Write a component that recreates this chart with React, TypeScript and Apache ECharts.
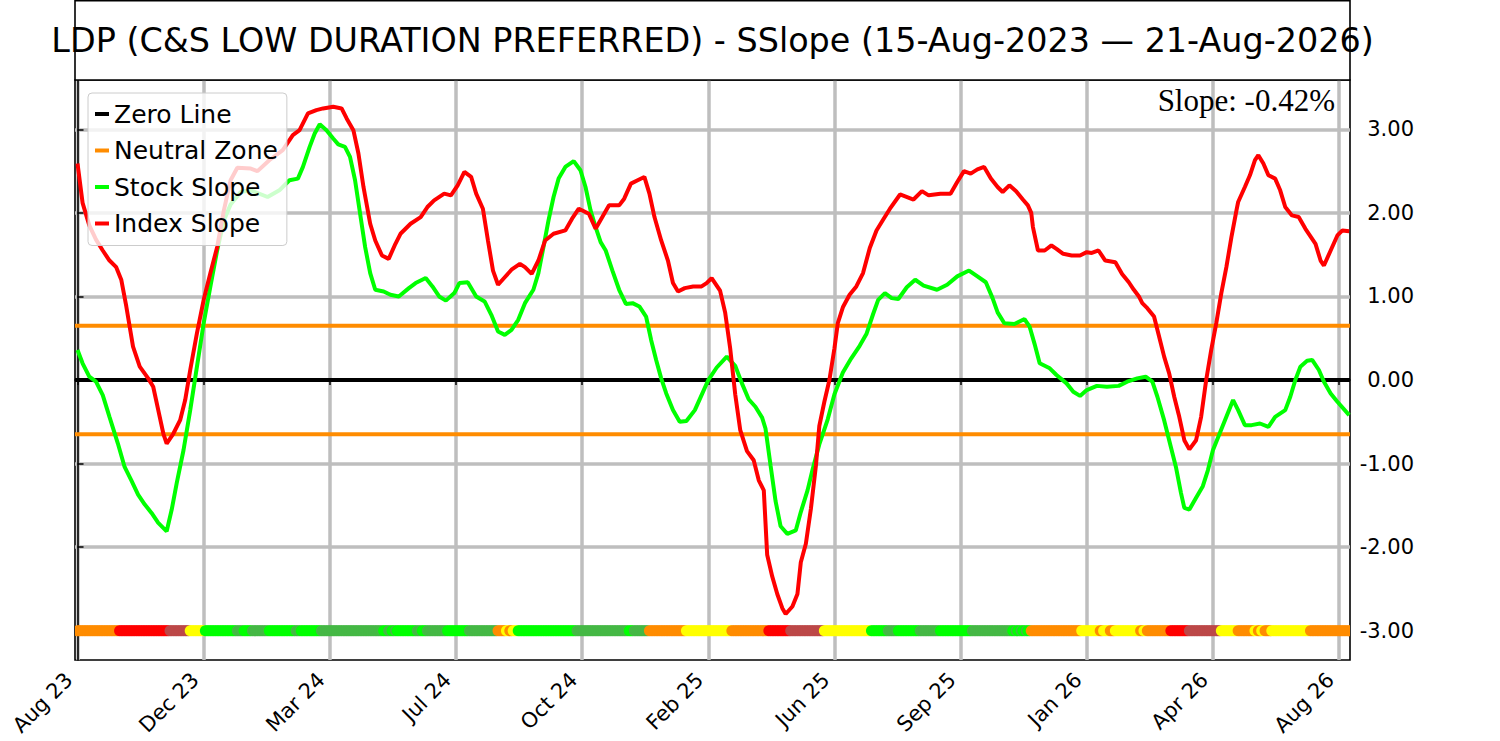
import React, { useEffect, useRef } from 'react';
import * as echarts from 'echarts';

// ---------- data ----------
const titleText = 'LDP (C&S LOW DURATION PREFERRED) - SSlope (15-Aug-2023 — 21-Aug-2026)';
const slopeText = 'Slope: -0.42%';

const xTickDays = [0, 75, 150, 225, 300, 375, 450, 525, 600, 675, 750];
const xTickLabels = ['Aug 23', 'Dec 23', 'Mar 24', 'Jul 24', 'Oct 24', 'Feb 25', 'Jun 25', 'Sep 25', 'Jan 26', 'Apr 26', 'Aug 26'];
const yTickValues = [-3, -2, -1, 0, 1, 2, 3];
const neutralLevel = 0.65;
const totalDays = 757;
const signalLevel = -3;

// [trading-day index, slope]
const stockSlope: [number, number][] = [
  [0, 0.36], [3, 0.2], [7, 0.04], [11, -0.02], [15, -0.18], [19, -0.44], [24, -0.76], [28, -1.04], [32, -1.2], [36, -1.37],
  [40, -1.49], [44, -1.59], [48, -1.71], [53, -1.81], [56, -1.55], [59, -1.23], [63, -0.84], [67, -0.36], [71, 0.16], [75, 0.68],
  [79, 1.12], [83, 1.55], [87, 1.91], [91, 2.1], [97, 2.25], [103, 2.27], [113, 2.19], [120, 2.27], [126, 2.39], [131, 2.41],
  [134, 2.55], [138, 2.79], [141, 2.95], [144, 3.06], [148, 2.99], [152, 2.89], [155, 2.82], [159, 2.79], [162, 2.67], [165, 2.39],
  [168, 1.99], [171, 1.59], [174, 1.28], [177, 1.08], [182, 1.06], [186, 1.02], [191, 1.0], [197, 1.1], [201, 1.16], [207, 1.22],
  [211, 1.12], [215, 1.0], [219, 0.95], [224, 1.04], [227, 1.16], [232, 1.17], [237, 1.0], [242, 0.94], [246, 0.78], [250, 0.58],
  [254, 0.54], [258, 0.6], [262, 0.72], [266, 0.92], [271, 1.08], [274, 1.28], [277, 1.59], [280, 1.91], [283, 2.19], [286, 2.41],
  [290, 2.55], [295, 2.62], [299, 2.51], [302, 2.31], [305, 2.03], [308, 1.83], [311, 1.65], [314, 1.55], [318, 1.31], [322, 1.08],
  [326, 0.91], [330, 0.92], [334, 0.88], [338, 0.76], [341, 0.48], [344, 0.24], [347, 0.02], [350, -0.16], [354, -0.36], [358, -0.5],
  [362, -0.49], [367, -0.36], [371, -0.18], [375, 0.0], [380, 0.15], [386, 0.28], [391, 0.17], [395, -0.04], [399, -0.23], [403, -0.32],
  [407, -0.45], [409, -0.58], [412, -1.02], [415, -1.45], [418, -1.75], [422, -1.84], [427, -1.8], [430, -1.58], [434, -1.32], [437, -1.07],
  [441, -0.77], [446, -0.47], [450, -0.17], [455, 0.09], [460, 0.26], [465, 0.41], [469, 0.55], [473, 0.79], [476, 0.96], [480, 1.04],
  [484, 0.98], [488, 0.97], [493, 1.11], [498, 1.2], [503, 1.13], [511, 1.08], [517, 1.14], [523, 1.24], [530, 1.31], [535, 1.24],
  [540, 1.17], [544, 0.98], [547, 0.81], [551, 0.68], [557, 0.67], [563, 0.73], [566, 0.64], [569, 0.43], [572, 0.2], [578, 0.14],
  [582, 0.06], [588, -0.04], [592, -0.14], [596, -0.19], [600, -0.12], [606, -0.07], [612, -0.08], [619, -0.07], [624, -0.02], [630, 0.02],
  [635, 0.04], [639, -0.02], [642, -0.2], [646, -0.48], [650, -0.8], [653, -1.04], [656, -1.35], [658, -1.53], [661, -1.55], [665, -1.41],
  [669, -1.27], [672, -1.08], [675, -0.84], [679, -0.64], [683, -0.44], [687, -0.24], [690, -0.36], [694, -0.54], [698, -0.54], [703, -0.52],
  [708, -0.56], [712, -0.44], [718, -0.36], [721, -0.2], [724, 0.0], [727, 0.16], [731, 0.23], [734, 0.24], [738, 0.12], [741, -0.02],
  [745, -0.16], [749, -0.26], [756, -0.42],
];

const indexSlope: [number, number][] = [
  [0, 2.59], [3, 2.12], [7, 1.85], [11, 1.68], [15, 1.55], [19, 1.43], [23, 1.35], [26, 1.2], [29, 0.88], [33, 0.4],
  [37, 0.16], [42, 0.02], [45, -0.08], [48, -0.36], [51, -0.64], [53, -0.76], [57, -0.64], [61, -0.48], [64, -0.24], [67, 0.12],
  [71, 0.56], [75, 0.96], [79, 1.28], [83, 1.59], [87, 2.03], [91, 2.39], [95, 2.54], [103, 2.53], [107, 2.5], [114, 2.63],
  [122, 2.75], [128, 2.93], [132, 2.99], [137, 3.19], [142, 3.23], [146, 3.25], [152, 3.27], [157, 3.25], [160, 3.13], [164, 2.99],
  [167, 2.71], [170, 2.31], [174, 1.87], [177, 1.67], [181, 1.49], [185, 1.45], [189, 1.63], [192, 1.75], [198, 1.87], [204, 1.95],
  [208, 2.07], [212, 2.15], [218, 2.23], [222, 2.21], [226, 2.33], [230, 2.49], [234, 2.43], [237, 2.23], [241, 2.05], [244, 1.67],
  [247, 1.31], [250, 1.14], [254, 1.23], [258, 1.32], [263, 1.39], [266, 1.35], [270, 1.27], [274, 1.43], [278, 1.67], [283, 1.75],
  [290, 1.79], [294, 1.93], [298, 2.05], [304, 1.99], [308, 1.81], [312, 1.95], [316, 2.09], [322, 2.09], [325, 2.17], [329, 2.35],
  [333, 2.39], [337, 2.43], [340, 2.23], [343, 1.95], [347, 1.67], [351, 1.43], [354, 1.16], [357, 1.06], [361, 1.1], [366, 1.12],
  [371, 1.12], [374, 1.16], [377, 1.22], [382, 1.07], [385, 0.81], [388, 0.38], [391, -0.17], [394, -0.6], [398, -0.85], [402, -0.96],
  [405, -1.2], [408, -1.32], [410, -2.09], [413, -2.35], [416, -2.56], [419, -2.73], [421, -2.8], [425, -2.71], [428, -2.56], [430, -2.18],
  [433, -1.96], [436, -1.54], [439, -1.02], [441, -0.55], [444, -0.26], [447, 0.0], [450, 0.38], [452, 0.68], [455, 0.87], [459, 1.02],
  [463, 1.12], [467, 1.28], [471, 1.58], [475, 1.79], [479, 1.92], [483, 2.05], [489, 2.22], [497, 2.16], [502, 2.26], [506, 2.21],
  [513, 2.23], [519, 2.23], [523, 2.37], [527, 2.5], [531, 2.47], [535, 2.52], [539, 2.55], [543, 2.41], [547, 2.31], [550, 2.25],
  [554, 2.33], [558, 2.26], [562, 2.16], [565, 2.09], [567, 2.0], [568, 1.83], [571, 1.55], [575, 1.55], [579, 1.61], [582, 1.57],
  [586, 1.51], [591, 1.49], [596, 1.49], [600, 1.53], [603, 1.52], [607, 1.55], [611, 1.43], [617, 1.41], [621, 1.27], [625, 1.17],
  [628, 1.08], [631, 1.0], [633, 0.92], [636, 0.86], [640, 0.76], [643, 0.52], [646, 0.28], [649, 0.08], [652, -0.2], [655, -0.44],
  [658, -0.72], [661, -0.83], [665, -0.72], [668, -0.44], [671, 0.0], [674, 0.36], [677, 0.68], [680, 1.04], [683, 1.35], [686, 1.71],
  [689, 2.03], [690, 2.13], [694, 2.31], [697, 2.45], [700, 2.63], [702, 2.69], [705, 2.59], [708, 2.45], [712, 2.41], [715, 2.27],
  [718, 2.07], [722, 1.97], [726, 1.95], [730, 1.81], [733, 1.72], [736, 1.63], [739, 1.43], [741, 1.37], [745, 1.55], [749, 1.73],
  [752, 1.79], [756, 1.78],
];

// signal strip: run start day + colour key
const signalRunStarts = [
  0, 25, 55, 67, 76, 95, 99, 104, 114, 130, 133, 145, 182, 185, 187, 189, 190, 202, 205, 208, 220, 233,
  250, 255, 257, 259, 262, 297, 328, 331, 340, 362, 389, 411, 424, 444, 472, 482, 488, 501, 513, 532,
  556, 558, 559, 561, 562, 564, 565, 567, 597, 608, 610, 614, 617, 632, 634, 636, 650, 661, 680, 690,
  700, 702, 704, 706, 710, 733,
];
const signalRunKeys = [
  'O', 'R', 'B', 'Y', 'L', 'G', 'L', 'G', 'L', 'G', 'L', 'G', 'L', 'G', 'L', 'G', 'L', 'G', 'L', 'G', 'L', 'G',
  'O', 'Y', 'O', 'Y', 'L', 'G', 'L', 'G', 'O', 'Y', 'O', 'R', 'B', 'Y', 'L', 'G', 'L', 'G', 'L', 'G',
  'L', 'G', 'L', 'G', 'L', 'G', 'L', 'O', 'Y', 'O', 'Y', 'O', 'Y', 'O', 'Y', 'O', 'R', 'B', 'Y', 'O',
  'Y', 'O', 'Y', 'O', 'Y', 'O',
];
const signalKeyOrder = ['O', 'R', 'B', 'Y', 'L', 'G'];
const signalKeyColors = ['#FF8C00', '#FF0000', '#BC4848', '#FFFF00', '#00FF00', '#45B845'];

// ---------- chart ----------
const X_MIN = -1.5;
const X_MAX = 756.5;
const Y_MIN = -3.35;
const Y_MAX = 3.59;
const FONT = '"DejaVu Sans", sans-serif';
const LINE_W = 4;

function signalKeyIndexAt(day: number): number {
  let k = 0;
  for (let i = 0; i < signalRunStarts.length; i++) {
    if (signalRunStarts[i] <= day) k = i;
  }
  return signalKeyOrder.indexOf(signalRunKeys[k]);
}

export default function App() {
  const ref = useRef<HTMLDivElement>(null);

  useEffect(() => {
    if (!ref.current) return;
    const chart = echarts.init(ref.current, undefined, { renderer: 'svg' });

    const signalData: number[][] = [];
    for (let d = 0; d < totalDays; d++) {
      signalData.push([d, signalLevel, signalKeyIndexAt(d)]);
    }

    const gridLine = { show: true, lineStyle: { color: '#bebebe', width: 3.5 } };

    const option: any = {
      animation: false,
      backgroundColor: '#ffffff',
      textStyle: { fontFamily: FONT },
      grid: {
        left: 75,
        top: 80,
        width: 1275,
        height: 580,
        show: true,
        borderColor: '#000',
        borderWidth: 1.6,
        backgroundColor: 'transparent',
      },
      xAxis: {
        type: 'value',
        min: X_MIN,
        max: X_MAX,
        axisLine: { show: true, lineStyle: { color: '#000', width: 1.6 } },
        axisTick: { show: true, customValues: xTickDays, length: 5, lineStyle: { color: '#000', width: 1.5 } },
        axisLabel: {
          customValues: xTickDays,
          rotate: 45,
          margin: 8,
          padding: [0, 12, 0, 0],
          fontSize: 21,
          fontFamily: FONT,
          color: '#000',
          formatter: (v: number) => {
            const i = xTickDays.indexOf(Math.round(v));
            return i >= 0 ? xTickLabels[i] : '';
          },
        },
        splitLine: gridLine,
      },
      yAxis: {
        type: 'value',
        position: 'right',
        min: Y_MIN,
        max: Y_MAX,
        axisLine: { show: true, lineStyle: { color: '#000', width: 1.6 } },
        axisTick: { show: true, customValues: yTickValues, length: 6, lineStyle: { color: '#000', width: 1.5 } },
        axisLabel: {
          customValues: yTickValues,
          align: 'right',
          margin: 64,
          fontSize: 21,
          fontFamily: FONT,
          color: '#000',
          formatter: (v: number) => v.toFixed(2),
        },
        splitLine: gridLine,
      },
      legend: {
        data: ['Zero Line', 'Neutral Zone', 'Stock Slope', 'Index Slope'],
        orient: 'vertical',
        left: 88,
        top: 93,
        padding: [7, 9, 8, 7],
        itemGap: 8.5,
        itemWidth: 14,
        itemHeight: 4,
        icon: 'rect',
        selectedMode: false,
        backgroundColor: 'rgba(255,255,255,0.8)',
        borderColor: '#cccccc',
        borderWidth: 1,
        borderRadius: 4,
        textStyle: { fontSize: 25, fontFamily: FONT, color: '#000', lineHeight: 28 },
      },
      graphic: [
        {
          type: 'rect',
          shape: { x: 75, y: 0.8, width: 1275, height: 79.2 },
          style: { fill: '#ffffff', stroke: '#000', lineWidth: 1.6 },
          z: 10,
        },
        {
          type: 'text',
          x: 712.5,
          y: 40,
          z: 11,
          style: {
            text: titleText,
            fontSize: 33.4,
            fontFamily: FONT,
            fill: '#000',
            align: 'center',
            verticalAlign: 'middle',
          },
        },
        {
          type: 'text',
          x: 1335,
          y: 100,
          z: 11,
          style: {
            text: slopeText,
            fontSize: 31,
            fontFamily: '"Liberation Serif", serif',
            fill: '#000',
            align: 'right',
            verticalAlign: 'middle',
          },
        },
      ],
      series: [
        {
          name: 'Zero Line',
          type: 'line',
          data: [[X_MIN, 0], [X_MAX, 0]],
          showSymbol: false,
          silent: true,
          itemStyle: { color: '#000' },
          lineStyle: { color: '#000', width: LINE_W },
        },
        {
          name: 'Neutral Zone',
          type: 'line',
          data: [[X_MIN, neutralLevel], [X_MAX, neutralLevel]],
          showSymbol: false,
          silent: true,
          itemStyle: { color: '#FF8C00' },
          lineStyle: { color: '#FF8C00', width: LINE_W },
        },
        {
          name: 'Neutral Zone',
          type: 'line',
          data: [[X_MIN, -neutralLevel], [X_MAX, -neutralLevel]],
          showSymbol: false,
          silent: true,
          itemStyle: { color: '#FF8C00' },
          lineStyle: { color: '#FF8C00', width: LINE_W },
        },
        {
          name: 'Stock Slope',
          type: 'line',
          data: stockSlope,
          showSymbol: false,
          silent: true,
          itemStyle: { color: '#00FF00' },
          lineStyle: { color: '#00FF00', width: LINE_W },
        },
        {
          name: 'Index Slope',
          type: 'line',
          data: indexSlope,
          showSymbol: false,
          silent: true,
          itemStyle: { color: '#FF0000' },
          lineStyle: { color: '#FF0000', width: LINE_W },
        },
        {
          name: 'Signal',
          type: 'custom',
          data: signalData,
          encode: { x: 0, y: 1 },
          clip: true,
          silent: true,
          renderItem: (params: any, api: any) => {
            const p = api.coord([api.value(0), api.value(1)]);
            return {
              type: 'circle',
              shape: { cx: p[0], cy: p[1], r: 5.5 },
              style: { fill: signalKeyColors[api.value(2)] },
            };
          },
        },
      ],
    };

    chart.setOption(option);
    return () => chart.dispose();
  }, []);

  return <div ref={ref} style={{ position: 'fixed', left: 0, top: 0, width: 1500, height: 741 }} />;
}
